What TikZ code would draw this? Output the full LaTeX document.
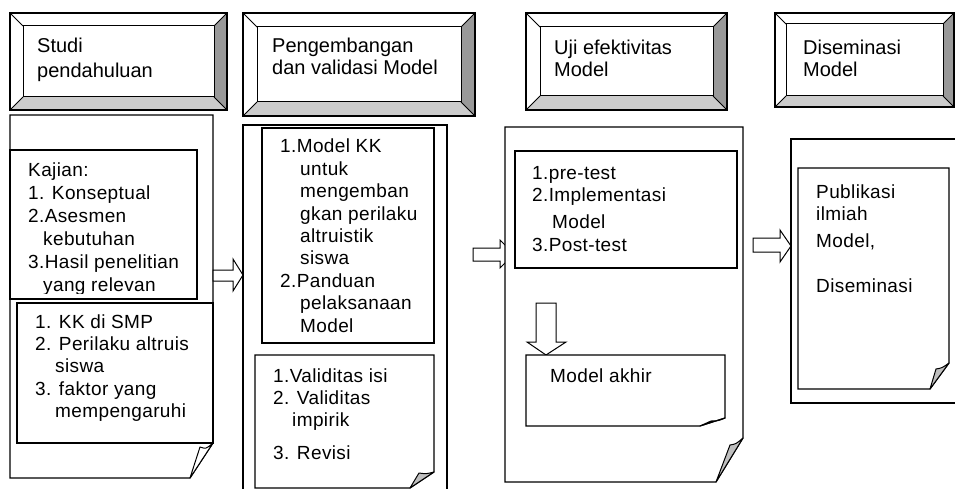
\documentclass[tikz,border=0pt]{standalone}
\usepackage{fontspec}
\setmainfont{Liberation Sans}
\newfontfamily\bodyfont[LetterSpace=2]{Liberation Sans}
\usepackage{tikz}
\newcommand{\textlines}[1]{\begin{tabular}[t]{@{}l@{}}#1\end{tabular}}
\tikzset{frame/.style = {draw = black, line width = 1.2pt, fill = white, line join = miter},
         curl/.style = {draw = black, line width = 1pt, fill = gray!50, line join = round},
         blockarrow/.style = {draw = black, line width = 1pt, fill = white},
         headtext/.style = {anchor = base west, inner sep = 0pt,
                            font = \fontsize{20}{24}\selectfont},
         bodytext/.style = {anchor = base west, inner sep = 0pt,
                            font = \bodyfont\fontsize{19}{22.4}\selectfont}}

\begin{document}
\begin{tikzpicture}[x = 1pt, y = -1pt]
      \useasboundingbox (0, 0) rectangle (955, 489);
      \clip (0, 0) rectangle (955, 489);

      % bevelled headings
      \foreach \l/\t/\r/\b/\w in {10/13/227/110/13, 243/13/475/116/14,
                                  526/13/727/110/14, 775/13/954/107/11} {
        \fill [white] (\l, \t) rectangle (\r, \b);
        \fill [gray!40] (\l, \b) -- (\r, \b) -- (\r-\w, \b-\w) -- (\l+\w, \b-\w) -- cycle;
        \fill [gray!80] (\r, \t) -- (\r, \b) -- (\r-\w, \b-\w) -- (\r-\w, \t+\w) -- cycle;
        \draw [line width = 1.2pt] (\l, \t) rectangle (\r, \b);
        \draw [line width = 1pt] (\l+\w, \t+\w) rectangle (\r-\w, \b-\w);
        \draw [line width = 1pt] (\l, \t) -- (\l+\w, \t+\w)
                                 (\r, \t) -- (\r-\w, \t+\w)
                                 (\l, \b) -- (\l+\w, \b-\w)
                                 (\r, \b) -- (\r-\w, \b-\w);
      }
      \node [headtext] (studi) at (37, 53) {\textlines{Studi\\[1pt]pendahuluan}};
      \node [headtext] (kembang) at (272, 53) {\textlines{Pengembangan\\[-2pt]dan validasi Model}};
      \node [headtext] (uji) at (554, 55) {\textlines{Uji efektivitas\\[-2pt]Model}};
      \node [headtext] (sebar) at (803, 55) {\textlines{Diseminasi\\[-2pt]Model}};

      % panel 1
      \draw [frame] (10, 115) -- (213, 115) -- (213, 443) -- (190, 478) -- (10, 478) -- cycle;
      \draw [curl, fill = white] (190, 478) -- (200, 447) .. controls (206, 449) .. (213, 443) -- cycle;
      \draw [frame] (10, 150) rectangle (197, 299);
      \begin{scope}
        \clip (10, 150) rectangle (197, 293.5);
        \node [bodytext, font = \bodyfont\fontsize{19}{23}\selectfont] (kajian) at (28, 177)
          {\textlines{Kajian:\\1. Konseptual\\2.Asesmen\\\hspace*{15pt}kebutuhan\\
           3.Hasil penelitian\\\hspace*{15pt}yang relevan}};
      \end{scope}
      \draw [frame] (17, 303) rectangle (213, 443);
      \node [bodytext] (smp) at (35, 328)
        {\textlines{1. KK di SMP\\2. Perilaku altruis\\\hspace*{20pt}siswa\\
         3. faktor yang\\\hspace*{20pt}mempengaruhi}};

      \draw [blockarrow] (213, 270) -- (233, 270) -- (233, 259) -- (243, 275)
                         -- (233, 291) -- (233, 281) -- (213, 281) -- cycle;

      % panel 2
      \draw [frame] (243, 125) rectangle (447, 500);
      \draw [frame] (262, 128) rectangle (434, 343);
      \node [bodytext] (model) at (280, 153)
        {\textlines{1.Model KK\\\hspace*{20pt}untuk\\\hspace*{20pt}mengemban\\
         \hspace*{20pt}gkan perilaku\\\hspace*{20pt}altruistik\\\hspace*{20pt}siswa\\
         2.Panduan\\\hspace*{20pt}pelaksanaan\\\hspace*{20pt}Model}};
      \draw [frame] (255, 355) -- (434, 355) -- (434, 472) -- (410, 488) -- (255, 488) -- cycle;
      \draw [curl] (410, 488) -- (419, 473) .. controls (426, 474) .. (434, 472) -- cycle;
      \node [bodytext] (valid) at (273, 382)
        {\textlines{1.Validitas isi\\2. Validitas\\\hspace*{19pt}impirik\\[10pt]3. Revisi}};

      \draw [blockarrow] (473, 248) -- (500, 248) -- (500, 240) -- (514, 254)
                         -- (500, 268) -- (500, 261) -- (473, 261) -- cycle;

      % panel 3
      \draw [frame] (505, 127) -- (743, 127) -- (743, 438) -- (716, 482) -- (505, 482) -- cycle;
      \draw [curl] (716, 482) -- (730, 445) .. controls (736, 444) .. (743, 438) -- cycle;
      \draw [frame] (515, 151) rectangle (737, 268);
      \node [bodytext] (tes) at (532, 179)
        {\textlines{1.pre-test\\2.Implementasi\\[5pt]\hspace*{20pt}Model\\3.Post-test}};
      \draw [blockarrow] (536, 303) -- (556, 303) -- (556, 342) -- (566, 342)
                         -- (546, 355) -- (527, 342) -- (536, 342) -- cycle;
      \draw [frame] (526, 355) -- (725, 355) -- (725, 418) -- (700, 426) -- (526, 426) -- cycle;
      \draw [curl] (700, 426) -- (711, 421) .. controls (718, 421) .. (725, 418) -- cycle;
      \node [bodytext] (akhir) at (550, 382) {Model akhir};

      \draw [blockarrow] (753, 238) -- (780, 238) -- (780, 230) -- (791, 246)
                         -- (780, 262) -- (780, 252) -- (753, 252) -- cycle;

      % panel 4
      \draw [frame] (791, 139) rectangle (965, 403);
      \draw [frame] (798, 168) -- (949, 168) -- (949, 363) -- (930, 389) -- (798, 389) -- cycle;
      \draw [curl] (930, 389) -- (936, 369) .. controls (942, 368) .. (949, 363) -- cycle;
      \node [bodytext] (publikasi) at (816, 198)
        {\textlines{Publikasi\\ilmiah\\[4.5pt]Model,\\[22.5pt]Diseminasi}};
\end{tikzpicture}
\end{document}
